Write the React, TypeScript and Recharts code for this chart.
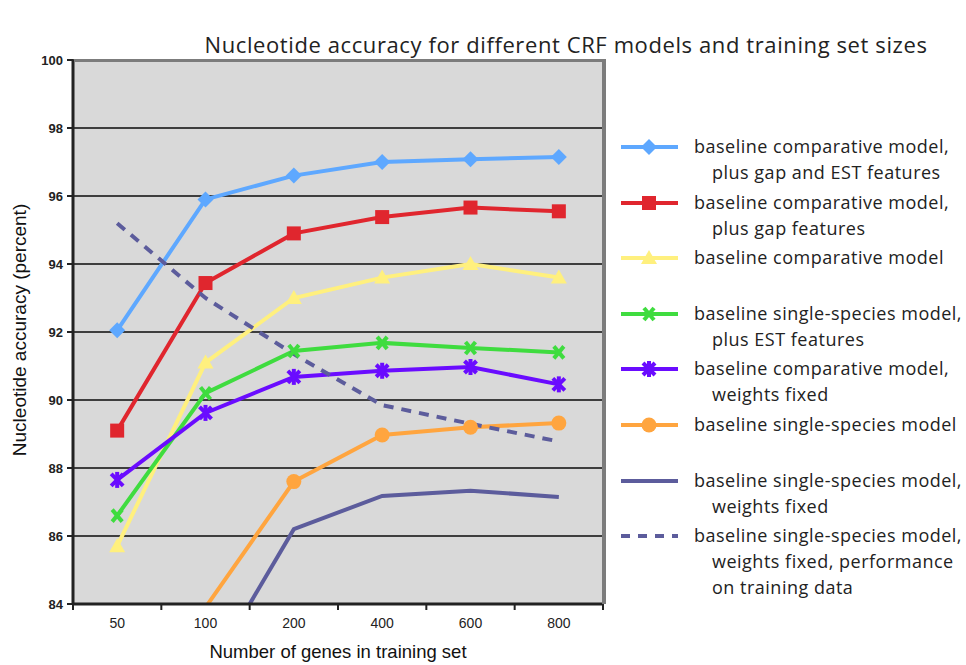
import React from 'react'
import { LineChart, Line, XAxis, YAxis, CartesianGrid } from 'recharts'

// training set sizes (category axis)
const genes = ['50', '100', '200', '400', '600', '800']

// nucleotide accuracy (percent)
const compGapEst = [92.05, 95.9, 96.6, 97.0, 97.08, 97.15]
const compGap = [89.1, 93.44, 94.9, 95.38, 95.66, 95.55]
const comp = [85.7, 91.1, 93.0, 93.6, 94.0, 93.6]
const singleEst = [86.6, 90.2, 91.44, 91.68, 91.53, 91.4]
const compFixed = [87.65, 89.62, 90.68, 90.86, 90.97, 90.46]
const single = [null, 83.9, 87.6, 88.97, 89.2, 89.32]
const singleFixed = [null, 81.8, 86.2, 87.18, 87.33, 87.15]
const singleFixedTrain = [95.2, 93.0, 91.35, 89.85, 89.3, 88.78]

const yTicks = [84, 86, 88, 90, 92, 94, 96, 98, 100]

const chartData = genes.map((g, i) => ({
  genes: g,
  compGapEst: compGapEst[i],
  compGap: compGap[i],
  comp: comp[i],
  singleEst: singleEst[i],
  compFixed: compFixed[i],
  single: single[i],
  singleFixed: singleFixed[i],
  singleFixedTrain: singleFixedTrain[i],
}))

type Marker = 'diamond' | 'square' | 'triangle' | 'cross' | 'star' | 'circle' | 'none'

const series: { key: string; name: string[]; color: string; marker: Marker; dashed?: boolean }[] = [
  { key: 'compGapEst', name: ['baseline comparative model,', 'plus gap and EST features'], color: '#5ea8ff', marker: 'diamond' },
  { key: 'compGap', name: ['baseline comparative model,', 'plus gap features'], color: '#e0262e', marker: 'square' },
  { key: 'comp', name: ['baseline comparative model'], color: '#fff07e', marker: 'triangle' },
  { key: 'singleEst', name: ['baseline single-species model,', 'plus EST features'], color: '#3fdc3f', marker: 'cross' },
  { key: 'compFixed', name: ['baseline comparative model,', 'weights fixed'], color: '#6a0cff', marker: 'star' },
  { key: 'single', name: ['baseline single-species model'], color: '#ffa53f', marker: 'circle' },
  { key: 'singleFixed', name: ['baseline single-species model,', 'weights fixed'], color: '#5c5c9c', marker: 'none' },
  { key: 'singleFixedTrain', name: ['baseline single-species model,', 'weights fixed, performance', 'on training data'], color: '#5c5c9c', marker: 'none', dashed: true },
]

const PLOT_BOTTOM = 604
const BAND = 88.33

const MarkerShape = ({ type, cx, cy, color }: { type: Marker; cx: number; cy: number; color: string }) => {
  switch (type) {
    case 'diamond':
      return <polygon points={`${cx},${cy - 8} ${cx + 8},${cy} ${cx},${cy + 8} ${cx - 8},${cy}`} fill={color} />
    case 'square':
      return <rect x={cx - 7} y={cy - 7} width={14} height={14} fill={color} />
    case 'triangle':
      return <polygon points={`${cx},${cy - 8} ${cx + 8},${cy + 6} ${cx - 8},${cy + 6}`} fill={color} />
    case 'cross':
      return (
        <g stroke={color} strokeWidth={4}>
          <line x1={cx - 5} y1={cy - 6} x2={cx + 5} y2={cy + 6} />
          <line x1={cx - 5} y1={cy + 6} x2={cx + 5} y2={cy - 6} />
        </g>
      )
    case 'star':
      return (
        <g stroke={color} strokeWidth={4}>
          <line x1={cx - 6} y1={cy - 6} x2={cx + 6} y2={cy + 6} />
          <line x1={cx - 6} y1={cy + 6} x2={cx + 6} y2={cy - 6} />
          <line x1={cx} y1={cy - 8} x2={cx} y2={cy + 8} />
        </g>
      )
    case 'circle':
      return <circle cx={cx} cy={cy} r={7.5} fill={color} />
    default:
      return null
  }
}

const makeDot = (type: Marker, color: string) => (props: any) => {
  const { cx, cy, value, index } = props
  if (cx == null || cy == null || value == null || value < 84) return <g key={`d-${index}`} />
  return (
    <g key={`d-${index}`}>
      <MarkerShape type={type} cx={cx} cy={cy} color={color} />
    </g>
  )
}

const XTick = (props: any) => {
  const { x, payload, index } = props
  return (
    <g>
      <text x={x} y={PLOT_BOTTOM + 24} textAnchor="middle" fontFamily="Liberation Sans, Arial, sans-serif" fontSize={14} fill="#222">
        {payload.value}
      </text>
      <line x1={x + BAND / 2} x2={x + BAND / 2} y1={PLOT_BOTTOM} y2={PLOT_BOTTOM + 6} stroke="#222" strokeWidth={2} />
      {index === 0 && <line x1={x - BAND / 2} x2={x - BAND / 2} y1={PLOT_BOTTOM} y2={PLOT_BOTTOM + 6} stroke="#222" strokeWidth={2} />}
    </g>
  )
}

const Legend = () => (
  <div style={{ position: 'absolute', left: 0, top: 0 }}>
    {series.map((s, i) => {
      const top = 147 + i * 55.6
      return (
        <div key={s.key}>
          <svg style={{ position: 'absolute', left: 615, top: top - 12 }} width={70} height={24}>
            <line x1={6} x2={63} y1={12} y2={12} stroke={s.color} strokeWidth={4} strokeDasharray={s.dashed ? '9 8' : undefined} />
            <MarkerShape type={s.marker} cx={34} cy={12} color={s.color} />
          </svg>
          {s.name.map((line, j) => (
            <div
              key={j}
              style={{
                position: 'absolute',
                left: j === 0 ? 694 : 712,
                top: top - 14 + j * 26,
                fontFamily: '"Open Sans", sans-serif',
                fontSize: 18,
                letterSpacing: 0.5,
                lineHeight: '26px',
                color: '#222',
                whiteSpace: 'nowrap',
              }}
            >
              {line}
            </div>
          ))}
        </div>
      )
    })}
  </div>
)

export default function App() {
  return (
    <div style={{ position: 'absolute', left: 0, top: 0, width: 966, height: 665, background: '#fff' }}>
      <div
        style={{
          position: 'absolute',
          left: 166,
          top: 29,
          width: 800,
          textAlign: 'center',
          fontFamily: '"Open Sans", sans-serif',
          fontSize: 22,
          letterSpacing: 0.6,
          lineHeight: '30px',
          color: '#222',
          whiteSpace: 'nowrap',
        }}
      >
        Nucleotide accuracy for different CRF models and training set sizes
      </div>
      <LineChart width={966} height={665} data={chartData} margin={{ top: 60, right: 363, bottom: 31, left: 13 }}>
        <CartesianGrid vertical={false} horizontal fill="#d9d9d9" stroke="#3e3e3e" strokeWidth={2} />
        <XAxis
          dataKey="genes"
          type="category"
          padding={{ left: BAND / 2, right: BAND / 2 }}
          height={30}
          tickLine={false}
          axisLine={{ stroke: '#222', strokeWidth: 3 }}
          tick={<XTick />}
          interval={0}
          label={{
            content: () => (
              <text x={338} y={658} textAnchor="middle" fontFamily="Liberation Sans, Arial, sans-serif" fontSize={18.5} fill="#111">
                Number of genes in training set
              </text>
            ),
          }}
        />
        <YAxis
          domain={[84, 100]}
          ticks={yTicks}
          allowDataOverflow
          width={60}
          tickSize={6}
          tickMargin={4}
          axisLine={{ stroke: '#222', strokeWidth: 3 }}
          tickLine={{ stroke: '#222', strokeWidth: 2 }}
          tick={{ fontFamily: 'Liberation Sans, Arial, sans-serif', fontSize: 13, fill: '#222', fontWeight: 'bold' }}
          label={{
            content: () => (
              <text
                x={26}
                y={330}
                transform="rotate(-90, 26, 330)"
                textAnchor="middle"
                fontFamily="Liberation Sans, Arial, sans-serif"
                fontSize={19}
                fill="#111"
              >
                Nucleotide accuracy (percent)
              </text>
            ),
          }}
        />
        {series.map((s) => (
          <Line
            key={s.key}
            type="linear"
            dataKey={s.key}
            stroke={s.color}
            strokeWidth={4}
            strokeDasharray={s.dashed ? '10 8' : undefined}
            dot={s.marker === 'none' ? false : makeDot(s.marker, s.color)}
            activeDot={false}
            connectNulls={false}
            isAnimationActive={false}
          />
        ))}
      </LineChart>
      {/* grey frame on top and right of the plot area */}
      <div
        style={{
          position: 'absolute',
          left: 74,
          top: 59,
          width: 532,
          height: 545,
          boxSizing: 'border-box',
          borderTop: '3px solid #7c7c7c',
          borderRight: '4px solid #7c7c7c',
          pointerEvents: 'none',
        }}
      />
      <Legend />
    </div>
  )
}
